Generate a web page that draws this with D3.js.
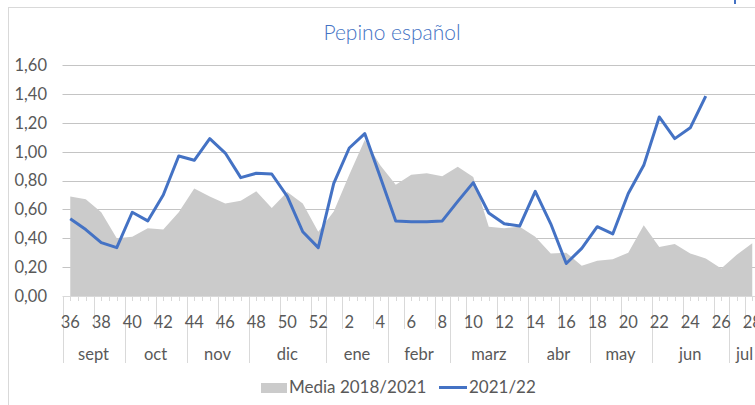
<!DOCTYPE html>
<html>
<head>
<meta charset="utf-8">
<script src="https://cdn.jsdelivr.net/npm/d3@7.9.0/dist/d3.min.js"></script>
<style>
  html, body { margin: 0; padding: 0; background: #fff; overflow: hidden; }
  svg { display: block; font-family: Lato, "Noto Sans", sans-serif; }
</style>
</head>
<body>
<svg id="chart" width="755" height="405"></svg>
<script>
// weeks of the season (category axis)
const weeks = [36, 37, 38, 39, 40, 41, 42, 43, 44, 45, 46, 47, 48, 49, 50, 51, 52,
  1, 2, 3, 4, 5, 6, 7, 8, 9, 10, 11, 12, 13, 14, 15, 16, 17, 18, 19, 20, 21, 22, 23, 24, 25, 26, 27, 28];

// Media 2018/2021 (grey area)
const media = [0.69, 0.67, 0.58, 0.40, 0.41, 0.47, 0.46, 0.58, 0.745, 0.69, 0.64, 0.66, 0.725, 0.61, 0.72, 0.64, 0.445,
  0.585, 0.84, 1.08, 0.905, 0.77, 0.84, 0.85, 0.83, 0.895, 0.825, 0.48, 0.47, 0.48, 0.41, 0.295, 0.30, 0.21,
  0.245, 0.255, 0.30, 0.49, 0.34, 0.36, 0.295, 0.26, 0.19, 0.285, 0.365];

// 2021/22 season (blue line), up to week 25
const season = [0.535, 0.46, 0.37, 0.335, 0.58, 0.52, 0.70, 0.97, 0.94, 1.09, 0.99, 0.82, 0.85, 0.845, 0.69, 0.445, 0.335,
  0.78, 1.025, 1.125, 0.825, 0.52, 0.515, 0.515, 0.52, 0.655, 0.785, 0.575, 0.50, 0.485, 0.725, 0.50, 0.225, 0.33,
  0.48, 0.43, 0.71, 0.905, 1.24, 1.09, 1.165, 1.385];

// month groups: name and number of weeks
const monthNames = ['sept', 'oct', 'nov', 'dic', 'ene', 'febr', 'marz', 'abr', 'may', 'jun', 'jul'];
const monthWeeks = [4, 4, 4, 5, 4, 4, 5, 4, 4, 5, 2];

const yTicks = [0, 0.2, 0.4, 0.6, 0.8, 1.0, 1.2, 1.4, 1.6];

const svg = d3.select('#chart');
const textColor = '#595959';
const blue = '#4472c4';

const step = 15.5;
const left = 62.5;
const x = d3.scaleBand().domain(d3.range(weeks.length)).range([left, left + step * weeks.length]);
const y = d3.scaleLinear().domain([0, 1.6]).range([296, 65]);
const cx = (i) => x(i) + x.bandwidth() / 2;

const fmt = d3.formatLocale({ decimal: ',', thousands: '.', grouping: [3], currency: ['', '€'] }).format('.2f');

// outer frame
svg.append('rect')
  .attr('x', 8.5).attr('y', 7.5).attr('width', 900).attr('height', 500)
  .attr('fill', 'none').attr('stroke', '#d9d9d9');
svg.append('rect').attr('x', 734).attr('y', 0).attr('width', 2).attr('height', 4).attr('fill', blue);

// title
svg.append('text')
  .attr('x', 392).attr('y', 40)
  .attr('text-anchor', 'middle')
  .attr('fill', blue)
  .attr('font-size', 21)
  .attr('font-weight', 300)
  .text('Pepino español');

// gridlines + y labels
svg.append('g').selectAll('line').data(yTicks.slice(1)).join('line')
  .attr('x1', left).attr('x2', 760)
  .attr('y1', (d) => Math.round(y(d)) + 0.5).attr('y2', (d) => Math.round(y(d)) + 0.5)
  .attr('stroke', '#c4c4c4');

svg.append('g').selectAll('text').data(yTicks).join('text')
  .attr('x', 47).attr('y', (d) => y(d))
  .attr('dy', '0.36em')
  .attr('text-anchor', 'end')
  .attr('fill', textColor)
  .attr('font-size', 16.5)
  .text((d) => fmt(d));

// grey area
const area = d3.area()
  .x((d, i) => cx(i))
  .y0(y(0))
  .y1((d) => y(d));
svg.append('path').datum(media).attr('d', area).attr('fill', '#cbcbcb');

// blue line
const line = d3.line().x((d, i) => cx(i)).y((d) => y(d));
svg.append('path').datum(season).attr('d', line)
  .attr('fill', 'none').attr('stroke', blue).attr('stroke-width', 3)
  .attr('stroke-linejoin', 'round');

// category axis
const ax = svg.append('g').attr('stroke', '#d9d9d9');
ax.append('line').attr('x1', left).attr('x2', 760).attr('y1', 296.5).attr('y2', 296.5);

// short ticks every half week
d3.range(weeks.length * 2 + 1).forEach((j) => {
  const xx = Math.round(left + j * step / 2) + 0.5;
  ax.append('line').attr('x1', xx).attr('x2', xx).attr('y1', 296).attr('y2', 301);
});

// label separators every 2 weeks
weeks.forEach((w, i) => {
  if (i % 2 === 0) {
    const xx = Math.round(x(i)) + 0.5;
    ax.append('line').attr('x1', xx).attr('x2', xx).attr('y1', 296).attr('y2', 329);
  }
});

// week labels
svg.append('g').selectAll('text').data(weeks.map((w, i) => ({ w, i })).filter((d) => d.i % 2 === 0)).join('text')
  .attr('x', (d) => cx(d.i)).attr('y', 328)
  .attr('text-anchor', 'middle')
  .attr('fill', textColor)
  .attr('font-size', 16.5)
  .text((d) => d.w);

// month separators and labels
let start = 0;
monthNames.forEach((m, k) => {
  const n = monthWeeks[k];
  const x0 = x(start);
  const x1 = left + step * (start + n);
  const xx = Math.round(x0) + 0.5;
  ax.append('line').attr('x1', xx).attr('x2', xx).attr('y1', 296).attr('y2', 363);
  svg.append('text')
    .attr('x', (x0 + x1) / 2).attr('y', 360)
    .attr('text-anchor', 'middle')
    .attr('fill', textColor)
    .attr('font-size', 16.5)
    .text(m);
  start += n;
});

// legend
const lg = svg.append('g');
lg.append('rect').attr('x', 261).attr('y', 383).attr('width', 26).attr('height', 10).attr('fill', '#cbcbcb');
lg.append('text').attr('x', 289).attr('y', 393).attr('fill', textColor).attr('font-size', 17).text('Media 2018/2021');
lg.append('line').attr('x1', 439).attr('x2', 467).attr('y1', 387.5).attr('y2', 387.5)
  .attr('stroke', blue).attr('stroke-width', 3);
lg.append('text').attr('x', 469).attr('y', 393).attr('fill', textColor).attr('font-size', 17).text('2021/22');
</script>
</body>
</html>
